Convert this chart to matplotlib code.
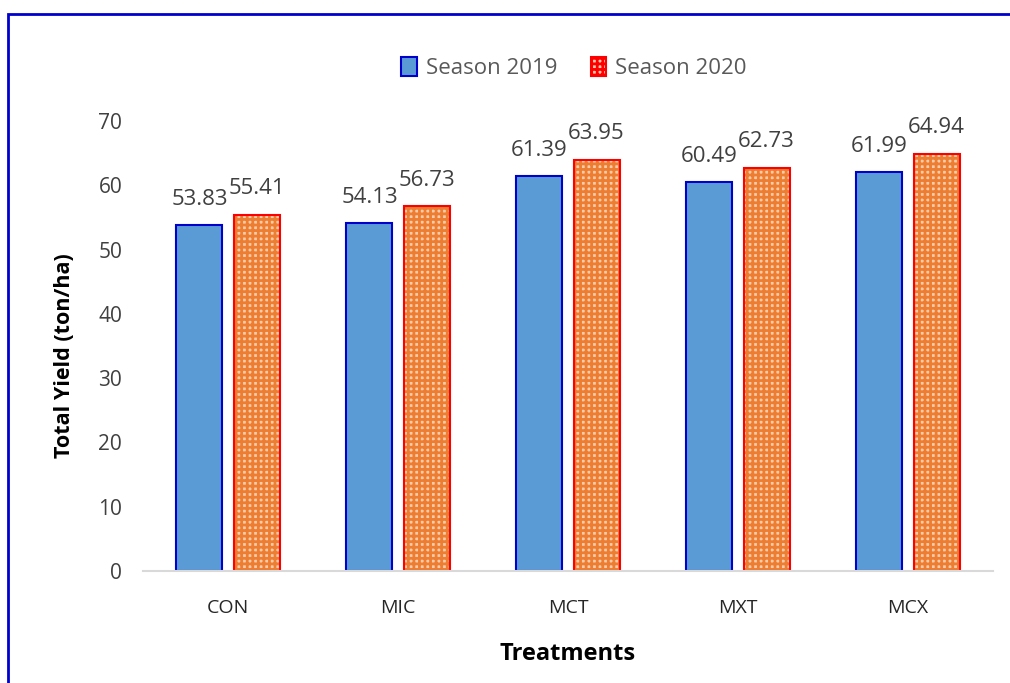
import matplotlib.pyplot as plt
from matplotlib.patches import Rectangle, Patch
import numpy as np

treatments = ['CON', 'MIC', 'MCT', 'MXT', 'MCX']
season_2019 = [53.83, 54.13, 61.39, 60.49, 61.99]
season_2020 = [55.41, 56.73, 63.95, 62.73, 64.94]

plt.rcParams['font.family'] = ['Open Sans', 'DejaVu Sans']
plt.rcParams['hatch.linewidth'] = 2.0

fig = plt.figure(figsize=(10.1, 6.83), dpi=100)
ax = fig.add_axes([143 / 1010, 1 - 571 / 683, 850 / 1010, 450 / 683])

x = np.arange(len(treatments))
w = 0.27
off = 0.168

ax.bar(x - off, season_2019, w, color='#5B9BD5', edgecolor='#0000CC', linewidth=1.5)
# orange bars: hatched fill, then red outline on top
ax.bar(x + off, season_2020, w, color='#F8CBAD', edgecolor='#ED7D31', hatch='+++', linewidth=0)
ax.bar(x + off, season_2020, w, color='none', edgecolor='#FF0000', linewidth=1.5)

for xi, v in zip(x, season_2019):
    ax.text(xi - off, v + 2.4, f'{v:.2f}', ha='center', va='bottom', fontsize=16, color='#404040')
for xi, v in zip(x, season_2020):
    ax.text(xi + off, v + 2.4, f'{v:.2f}', ha='center', va='bottom', fontsize=16, color='#404040')

ax.set_xlim(-0.5, 4.5)
ax.set_ylim(0, 70)
ax.set_yticks(range(0, 71, 10))
ax.set_xticks(x)
ax.set_xticklabels(treatments)
ax.tick_params(axis='both', length=0, labelsize=14, colors='#262626')
ax.tick_params(axis='y', labelsize=15, pad=15, colors='#404040')
ax.tick_params(axis='x', pad=20)
for s in ['top', 'right', 'left']:
    ax.spines[s].set_visible(False)
ax.spines['bottom'].set_color('#D9D9D9')
ax.spines['bottom'].set_linewidth(1.5)

ax.set_ylabel('Total Yield (ton/ha)', fontsize=15.5, fontweight='bold')
ax.yaxis.set_label_coords(-0.08, 0.478)
ax.set_xlabel('Treatments', fontsize=17, fontweight='bold', labelpad=18)

handles = [
    Patch(facecolor='#5B9BD5', edgecolor='#0000CC', linewidth=1.5, label='Season 2019'),
    Patch(facecolor='#F8CBAD', edgecolor='#FF0000', hatch='+++', linewidth=1.5, label='Season 2020'),
]
fig.legend(handles=handles, loc='center', bbox_to_anchor=(574 / 1010, 1 - 68 / 683), ncol=2,
           frameon=False, fontsize=16, labelcolor='#595959', handlelength=0.7, handleheight=0.9,
           handletextpad=0.4, columnspacing=1.5)

fig.patches.append(Rectangle((8 / 1010, -0.05), 1.1, 1 - 14 / 683 + 0.05, transform=fig.transFigure,
                             fill=False, edgecolor='#0000CC', linewidth=2, clip_on=False))

fig.savefig('out.png', dpi=100)
